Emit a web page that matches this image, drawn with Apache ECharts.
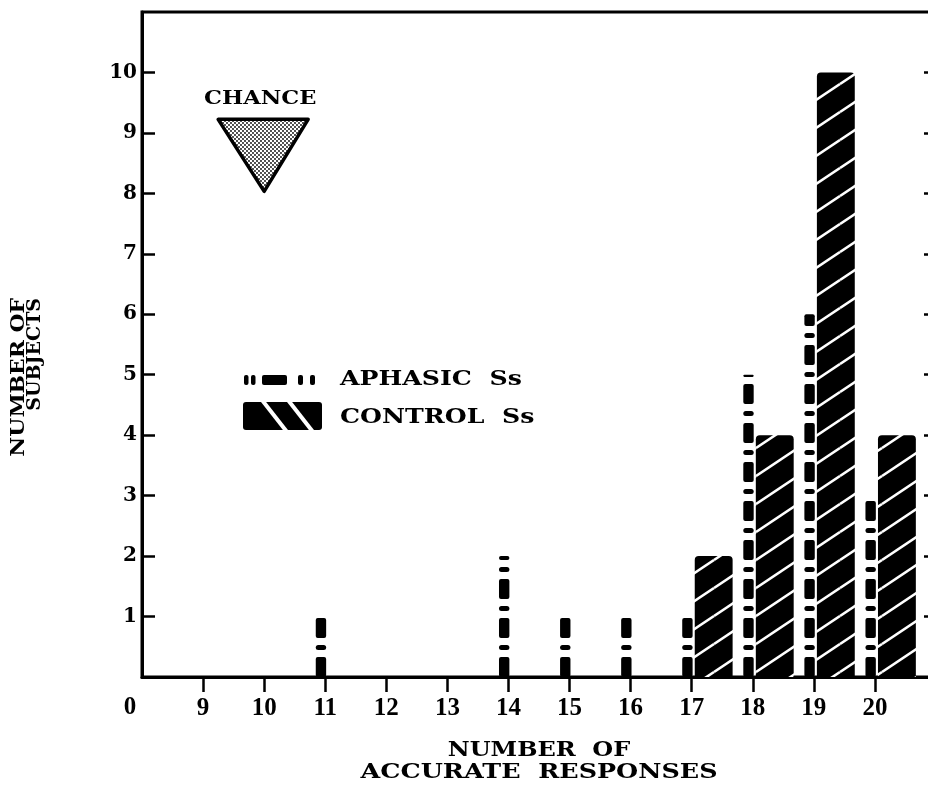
<!DOCTYPE html>
<html><head><meta charset="utf-8">
<script src="https://cdn.jsdelivr.net/npm/echarts@6/dist/echarts.min.js"></script>
<style>html,body{margin:0;padding:0;background:#fff}#c{width:928px;height:791px}</style>
</head><body><div id="c"></div>
<script>
// ---- data ----
const xTicks = [9, 10, 11, 12, 13, 14, 15, 16, 17, 18, 19, 20];
const yTicks = [1, 2, 3, 4, 5, 6, 7, 8, 9, 10];
const aphasicX = [11, 14, 15, 16, 17, 18, 19, 20];
const aphasicN = [1, 2, 1, 1, 1, 5, 6, 3];
const controlX = [17, 18, 19, 20];
const controlN = [2, 4, 10, 4];
const chanceX = 10;
const chanceY = 8;
const originLabel = '0';
const aphasicName = 'APHASIC  Ss';
const controlName = 'CONTROL  Ss';
const xTitle = ['NUMBER  OF', 'ACCURATE  RESPONSES'];
const yTitle = ['NUMBER OF', 'SUBJECTS'];

// ---- patterns ----
function stripeTile() {
  const w = 42, h = 28, c = document.createElement('canvas');
  c.width = w; c.height = h;
  const g = c.getContext('2d');
  g.fillStyle = '#000'; g.fillRect(0, 0, w, h);
  g.strokeStyle = '#fff'; g.lineWidth = 2.6;
  for (const dx of [-w, 0, w]) for (const dy of [-h, 0, h]) {
    g.beginPath(); g.moveTo(dx, h + dy); g.lineTo(w + dx, dy); g.stroke();
  }
  return c;
}
function dotTile() {
  const c = document.createElement('canvas'); c.width = 4; c.height = 4;
  const g = c.getContext('2d');
  g.fillStyle = '#fff'; g.fillRect(0, 0, 4, 4);
  g.fillStyle = '#000';
  g.beginPath(); g.arc(1, 1, 0.9, 0, Math.PI * 2); g.fill();
  g.beginPath(); g.arc(3, 3, 0.9, 0, Math.PI * 2); g.fill();
  return c;
}
const stripes = stripeTile();
const dots = dotTile();

const serifB = '"DejaVu Serif"';
const timesB = '"Liberation Serif"';

const chart = echarts.init(document.getElementById('c'), null, { renderer: 'canvas' });

const aphasicData = aphasicX.map((x, i) => [x, aphasicN[i]]);
const controlData = controlX.map((x, i) => [x, controlN[i]]);

function renderAphasic(params, api) {
  const x = api.value(0), v = api.value(1);
  const base = api.coord([x, 0]), top = api.coord([x, v]);
  const unit = api.size([1, 0])[0];
  const cx = base[0] - 0.07 * unit, w = 0.17 * unit;
  const seq = [[20, 'L'], [7, 'G'], [5, 'D'], [7, 'G']];
  const children = [];
  let y = base[1], i = 0;
  while (y > top[1] + 0.5) {
    const s = seq[i % seq.length];
    const y2 = Math.max(top[1], y - s[0]);
    if (s[1] !== 'G') {
      children.push({ type: 'rect', shape: { x: cx - w / 2, y: y2, width: w, height: y - y2, r: s[1] === 'D' ? 2.5 : 2 }, style: { fill: '#000' } });
    }
    y -= s[0]; i++;
  }
  return { type: 'group', children };
}
function renderControl(params, api) {
  const x = api.value(0), v = api.value(1);
  const base = api.coord([x, 0]), top = api.coord([x, v]);
  const unit = api.size([1, 0])[0];
  const x0 = base[0] + 0.05 * unit, w = 0.62 * unit;
  return { type: 'rect', shape: { x: x0, y: top[1], width: w, height: base[1] - top[1], r: [4, 4, 0, 0] },
    style: { fill: { image: stripes, repeat: 'repeat' } } };
}
function renderChance(params, api) {
  const p = api.coord([api.value(0), api.value(1)]);
  return { type: 'group', children: [
    { type: 'polygon', shape: { points: [[p[0] - 46, p[1] - 74], [p[0] + 44, p[1] - 74], [p[0], p[1] - 2]] },
      style: { fill: { image: dots, repeat: 'repeat' }, stroke: '#000', lineWidth: 3.5, lineJoin: 'round' } },
    { type: 'text', x: p[0] - 4, y: p[1] - 94, scaleX: 1.25,
      style: { text: 'CHANCE', font: 'bold 18px ' + serifB, fill: '#000', align: 'center', verticalAlign: 'middle' } }
  ] };
}

const axisLineStyle = { color: '#000', width: 3 };

chart.setOption({
  animation: false,
  backgroundColor: '#fff',
  grid: { left: 142, top: 12, width: 794, height: 665, show: true, borderColor: '#000', borderWidth: 3,
          containLabel: false, outerBoundsMode: 'none' },
  xAxis: {
    type: 'value', min: 8, max: 21, interval: 1,
    axisLine: { lineStyle: axisLineStyle },
    axisTick: { customValues: xTicks, length: 15, lineStyle: { color: '#000', width: 2.5 } },
    axisLabel: { customValues: xTicks, margin: 19, color: '#000', fontFamily: timesB, fontWeight: 'bold', fontSize: 25 },
    splitLine: { show: false }
  },
  yAxis: [{
    type: 'value', min: 0, max: 11, interval: 1,
    axisLine: { show: true, lineStyle: axisLineStyle },
    axisTick: { show: true, inside: true, customValues: yTicks, length: 13, lineStyle: { color: '#000', width: 2.5 } },
    axisLabel: { customValues: yTicks, margin: 5, color: '#000', fontFamily: serifB, fontWeight: 'bold', fontSize: 20 },
    splitLine: { show: false }
  }, {
    type: 'value', min: 0, max: 11, interval: 1, position: 'right',
    axisLine: { show: true, lineStyle: axisLineStyle },
    axisTick: { show: true, inside: true, customValues: yTicks, length: 12, lineStyle: { color: '#000', width: 2.5 } },
    axisLabel: { show: false },
    splitLine: { show: false }
  }],
  series: [
    { type: 'custom', name: 'aphasic', coordinateSystem: 'cartesian2d', encode: { x: 0, y: 1 }, data: aphasicData, renderItem: renderAphasic, z: 2 },
    { type: 'custom', name: 'control', coordinateSystem: 'cartesian2d', encode: { x: 0, y: 1 }, data: controlData, renderItem: renderControl, z: 3 },
    { type: 'custom', name: 'chance', coordinateSystem: 'cartesian2d', encode: { x: 0, y: 1 }, data: [[chanceX, chanceY]], renderItem: renderChance, z: 4 }
  ]
});

const o = chart.convertToPixel({ xAxisIndex: 0, yAxisIndex: 0 }, [8, 0]);
const xMid = (chart.convertToPixel({ xAxisIndex: 0 }, 8) + chart.convertToPixel({ xAxisIndex: 0 }, 21)) / 2;

const txt = (t, x, y, size, extra) => Object.assign({ type: 'text', x, y,
  style: { text: t, font: 'bold ' + size + 'px ' + serifB, fill: '#000', align: 'left', verticalAlign: 'middle' } }, extra || {});

chart.setOption({
  graphic: [
    // origin label
    { type: 'text', x: o[0] - 12, y: o[1] + 31, style: { text: originLabel, font: 'bold 25px ' + timesB, fill: '#000', align: 'center', verticalAlign: 'middle' } },
    // legend: aphasic symbol
    { type: 'rect', shape: { x: 244, y: 375, width: 4.5, height: 10, r: 2 }, style: { fill: '#000' } },
    { type: 'rect', shape: { x: 251, y: 375, width: 4.5, height: 10, r: 2 }, style: { fill: '#000' } },
    { type: 'rect', shape: { x: 262, y: 375, width: 25, height: 10, r: 2 }, style: { fill: '#000' } },
    { type: 'rect', shape: { x: 298, y: 375, width: 5, height: 10, r: 2 }, style: { fill: '#000' } },
    { type: 'rect', shape: { x: 310, y: 375, width: 5, height: 10, r: 2 }, style: { fill: '#000' } },
    txt(aphasicName, 340, 380, 21, { scaleX: 1.2 }),
    // legend: control symbol
    { type: 'rect', shape: { x: 243, y: 402, width: 79, height: 28, r: 3 }, style: { fill: '#000' } },
    { type: 'line', shape: { x1: 262, y1: 400, x2: 287, y2: 432 }, style: { stroke: '#fff', lineWidth: 4 } },
    { type: 'line', shape: { x1: 288, y1: 400, x2: 313, y2: 432 }, style: { stroke: '#fff', lineWidth: 4 } },
    txt(controlName, 340, 418, 21, { scaleX: 1.2 }),
    // x axis title
    { type: 'text', x: xMid, y: 751, scaleX: 1.2, style: { text: xTitle[0], font: 'bold 20px ' + serifB, fill: '#000', align: 'center', verticalAlign: 'middle' } },
    { type: 'text', x: xMid, y: 773, scaleX: 1.27, style: { text: xTitle[1], font: 'bold 20px ' + serifB, fill: '#000', align: 'center', verticalAlign: 'middle' } },
    // y axis title (rotated)
    { type: 'text', x: 19, y: 298, rotation: Math.PI / 2, scaleX: 1.15, style: { text: yTitle[0], font: 'bold 19px ' + serifB, fill: '#000', align: 'right', verticalAlign: 'middle' } },
    { type: 'text', x: 35, y: 298, rotation: Math.PI / 2, scaleX: 1.0, style: { text: yTitle[1], font: 'bold 19px ' + serifB, fill: '#000', align: 'right', verticalAlign: 'middle' } }
  ]
});
</script>
</body></html>
